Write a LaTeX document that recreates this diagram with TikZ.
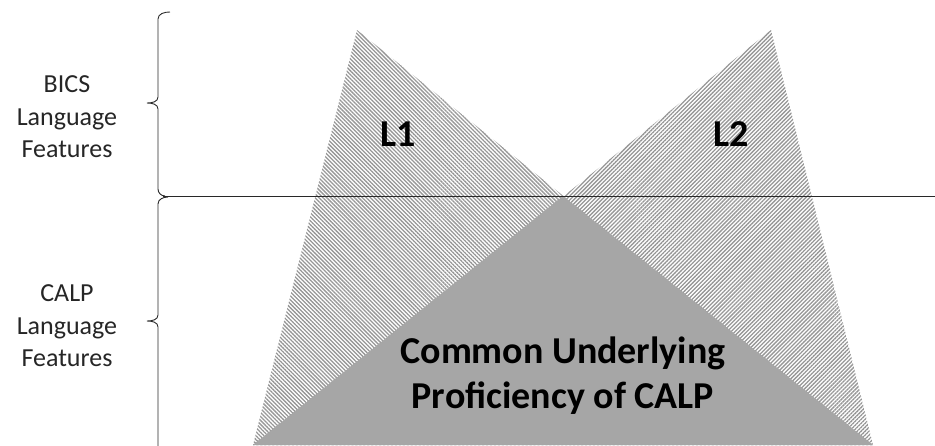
\documentclass[tikz,border=0pt]{standalone}
\usepackage{fontspec}
\setmainfont{Carlito}
\usetikzlibrary{patterns.meta,positioning}
\definecolor{overlapgray}{RGB}{166,166,166}
\definecolor{hatchgray}{RGB}{150,150,150}
\definecolor{linegray}{RGB}{40,40,40}
\tikzset{hatch l1/.style={pattern={Lines[angle=-45,distance=2.8pt,line width=1.3pt]}, pattern color=hatchgray},
  hatch l2/.style={pattern={Lines[angle=45,distance=2.8pt,line width=1.3pt]}, pattern color=hatchgray},
  rule line/.style={draw=linegray, line width=0.9pt},
  side label/.style={align=center, text=black!85, font=\fontsize{26}{32.5}\selectfont},
  big label/.style={align=center, font=\fontsize{38}{45}\selectfont\bfseries}}

\begin{document}
\begin{tikzpicture}[x=1pt,y=-1pt]
  \useasboundingbox (0,0) rectangle (935,445);
  \coordinate (top1) at (357,30);
  \coordinate (top2) at (771,30);
  \coordinate (mid) at (563,196);
  \coordinate (base1) at (253,445);
  \coordinate (base2) at (873,445);
  % the two languages
  \fill[hatch l1] (top1) -- (base1) -- (base2) -- cycle;
  \fill[hatch l2] (top2) -- (base2) -- (base1) -- cycle;
  \fill[overlapgray] (mid) -- (base1) -- (base2) -- cycle;
  % divider and braces
  \draw[rule line] (163,196) -- (935,196);
  \draw[rule line] (170,12) to[out=180,in=90] (158,19) -- (158,97)
    to[out=-90,in=0] (147,103) to[out=0,in=90] (158,109) -- (158,189)
    to[out=-90,in=180] (165,196);
  \draw[rule line] (168,197) to[out=180,in=90] (158,204) -- (158,315)
    to[out=-90,in=0] (147,321) to[out=0,in=90] (158,327) -- (158,450);
  \node[side label] (bics) at (67,117) {BICS\\Language\\Features};
  \node[side label] (calp) at (67,326) {CALP\\Language\\Features};
  \node[big label] (l1) at (398,134) {L1};
  \node[big label] (l2) at (731,134) {L2};
  \node[big label] (cup) at (563,376) {Common Underlying\\Proficiency of CALP};
\end{tikzpicture}
\end{document}
